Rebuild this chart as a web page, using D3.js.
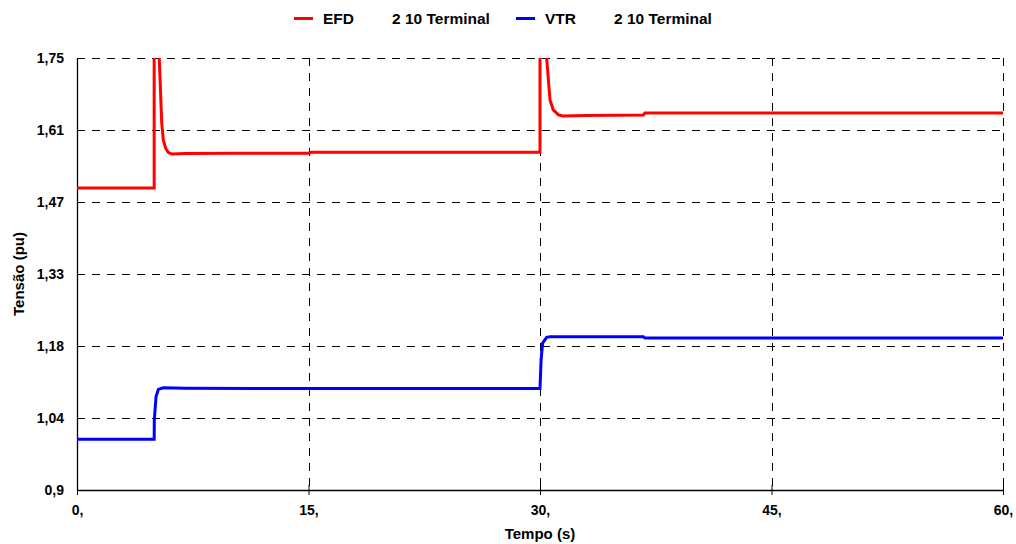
<!doctype html>
<html lang="en">
<head>
 <meta charset="utf-8">
 <title>Tensão x Tempo</title>
 <style>
 body{margin:0;background:#fff;}
 svg text{font-family:"Liberation Sans",Arial,sans-serif;font-weight:bold;fill:#000;}
 </style>
 <script src="https://cdnjs.cloudflare.com/ajax/libs/d3/7.8.5/d3.min.js"></script>
</head>
<body>
 <svg width="1016" height="544"></svg>
 <script>

 // tick values (labels are rounded, spacing is even)
 const xTicks=[0,15,30,45,60];
 const xTickLabels=["0,","15,","30,","45,","60,"];
 const yTicks=[0.9,1.0417,1.1833,1.325,1.4667,1.6083,1.75];
 const yTickLabels=["0,9","1,04","1,18","1,33","1,47","1,61","1,75"];

 // EFD  2 10 Terminal
 const efdTime=[0,5,5,5.1,5.33,5.49,5.59,5.75,5.92,6.16,7,10,15,15.2,30,30,30.1,30.43,30.65,30.86,31.19,31.5,33,36.7,36.8,60];
 const efdVal=[1.494,1.494,1.90,1.92,1.75,1.622,1.589,1.572,1.564,1.561,1.562,1.5625,1.5625,1.5645,1.5645,1.90,1.92,1.75,1.667,1.648,1.638,1.636,1.637,1.638,1.642,1.642];

 // VTR  2 10 Terminal
 const vtrTime=[0,5,5.01,5.12,5.27,5.59,7,15,30,30.07,30.17,30.43,30.65,36.7,36.8,60];
 const vtrVal=[1.000,1.000,1.038,1.0835,1.098,1.101,1.100,1.0996,1.0995,1.156,1.189,1.2004,1.2017,1.2015,1.199,1.199];

 const series=[
 {name:"EFD",label:"2 10 Terminal",color:"#ff0000",t:efdTime,v:efdVal},
 {name:"VTR",label:"2 10 Terminal",color:"#0000ff",t:vtrTime,v:vtrVal}
 ];

 const margin={top:58,left:77,bottom:54,right:13};
 const svgwid=1016, svghei=544;
 const width=svgwid-margin.left-margin.right;
 const height=svghei-margin.top-margin.bottom;

 const xScale=d3.scaleLinear().domain([0,60]).range([0,width]);
 const yScale=d3.scaleLinear().domain([0.9,1.75]).range([height,0]);

 const svg=d3.select("svg");
 const g=svg.append("g").attr("transform",`translate(${margin.left},${margin.top})`);

 g.append("clipPath").attr("id","clip")
 .append("rect").attr("x",0).attr("y",0).attr("width",width).attr("height",height);

 // grid
 g.append("g").selectAll("line").data(yTicks.slice(1)).join("line")
 .attr("x1",0).attr("x2",width)
 .attr("y1",d=>Math.round(yScale(d))+0.5).attr("y2",d=>Math.round(yScale(d))+0.5)
 .attr("stroke","#000").attr("stroke-dasharray","8,7");
 g.append("g").selectAll("line").data(xTicks.slice(1)).join("line")
 .attr("x1",d=>Math.round(xScale(d))+0.5).attr("x2",d=>Math.round(xScale(d))+0.5)
 .attr("y1",0).attr("y2",height)
 .attr("stroke","#000").attr("stroke-dasharray","8,7");

 // axes
 const xAxis=d3.axisBottom(xScale).tickValues(xTicks).tickFormat((d,i)=>xTickLabels[i]).tickSizeInner(5).tickSizeOuter(0).tickPadding(10);
 const yAxis=d3.axisLeft(yScale).tickValues(yTicks).tickFormat((d,i)=>yTickLabels[i]).tickSizeInner(4).tickSizeOuter(0).tickPadding(9);

 const gx=g.append("g").attr("transform",`translate(0,${height})`).call(xAxis);
 const gy=g.append("g").call(yAxis);
 [gx,gy].forEach(a=>{
 a.select(".domain").attr("stroke","#000").attr("stroke-width",1.3);
 a.selectAll(".tick line").attr("stroke","#000");
 a.selectAll("text").style("font-size","14px").attr("fill","#000");
 });
 gx.selectAll(".tick line").attr("y1",-5);
 gy.selectAll(".tick line").attr("x2",0);

 // lines
 const line=d3.line().x(d=>xScale(d[0])).y(d=>yScale(d[1]));
 g.append("g").attr("clip-path","url(#clip)")
 .selectAll("path").data(series).join("path")
 .attr("d",s=>line(s.t.map((t,i)=>[t,s.v[i]])))
 .attr("fill","none").attr("stroke",s=>s.color).attr("stroke-width",3);

 // axis titles
 svg.append("text").text("Tempo (s)")
 .attr("x",margin.left+width/2).attr("y",539)
 .attr("text-anchor","middle").style("font-size","15px");
 svg.append("text").text("Tensão (pu)")
 .attr("transform",`translate(24,${margin.top+height/2}) rotate(-90)`)
 .attr("text-anchor","middle").style("font-size","15px");

 // legend
 const legX=[294,516];
 const leg=svg.append("g").selectAll("g").data(series).join("g")
 .attr("transform",(d,i)=>`translate(${legX[i]},0)`);
 leg.append("line").attr("x1",0).attr("x2",19).attr("y1",18.5).attr("y2",18.5)
 .attr("stroke",d=>d.color).attr("stroke-width",3);
 leg.append("text").text(d=>d.name).attr("x",29).attr("y",24).style("font-size","15.5px");
 leg.append("text").text(d=>d.label).attr("x",98).attr("y",24).style("font-size","15.5px");

 </script>
</body>
</html>
